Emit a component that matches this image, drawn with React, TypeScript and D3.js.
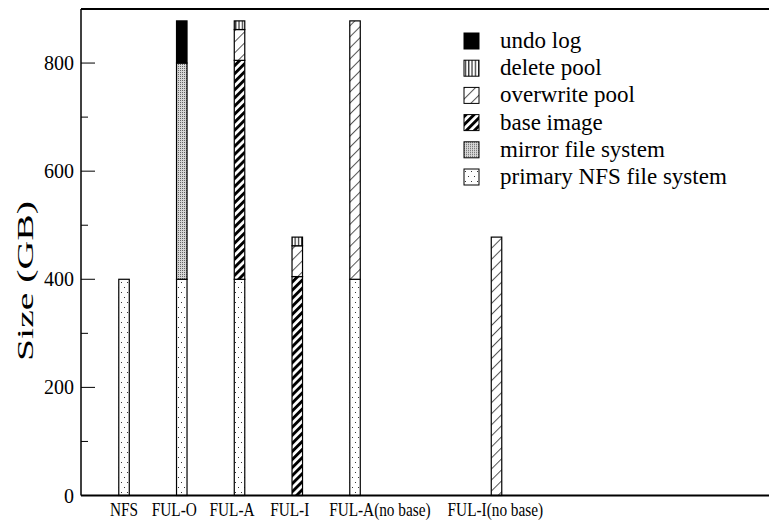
import React from "react";
import * as d3 from "d3";

// values (GB)
const categories = ["NFS", "FUL-O", "FUL-A", "FUL-I", "FUL-A(no base)", "FUL-I(no base)"];
const positions = [1, 2, 3, 4, 5, 7.45];
const labelPositions = [1.0, 1.87, 2.87, 3.87, 5.43, 7.43];
const primaryNfs = [400, 400, 400, 0, 400, 0];
const mirrorFs = [0, 400, 0, 0, 0, 0];
const baseImage = [0, 0, 405, 405, 0, 0];
const overwritePool = [0, 0, 57, 57, 478, 478];
const deletePool = [0, 0, 16, 16, 0, 0];
const undoLog = [0, 78, 0, 0, 0, 0];

const seriesKeys = ["primary", "mirror", "base", "overwrite", "delete", "undo"];
const seriesLabels = [
  "primary NFS file system",
  "mirror file system",
  "base image",
  "overwrite pool",
  "delete pool",
  "undo log",
];
const seriesFills = ["url(#pPrimary)", "url(#pMirror)", "url(#pBase)", "url(#pOverwrite)", "url(#pDelete)", "#000"];
const yTicks = [0, 200, 400, 600, 800];
const yMinorTicks = [100, 300, 500, 700];

const W = 769;
const H = 524;
const font = "Liberation Serif, serif";

const rows = categories.map((c, i) => ({
  name: c,
  pos: positions[i],
  labelPos: labelPositions[i],
  primary: primaryNfs[i],
  mirror: mirrorFs[i],
  base: baseImage[i],
  overwrite: overwritePool[i],
  delete: deletePool[i],
  undo: undoLog[i],
}));

const App = () => {
  const left = 81, top = 9, bottom = 495.5;
  const x = d3.scaleLinear().domain([0.255, 12.2]).range([left, left + (12.2 - 0.255) * 57.75]);
  const y = d3.scaleLinear().domain([0, 900]).range([bottom, top]);
  const barW = 10.5;

  const stacked = d3.stack<any>().keys(seriesKeys)(rows);

  return (
    <svg width={W} height={H} style={{ position: "absolute", left: 0, top: 0, background: "#fff", fontFamily: font }}>
      <defs>
        <pattern id="pPrimary" width="6" height="10" patternUnits="userSpaceOnUse">
          <rect width="6" height="10" fill="#fff" />
          <rect x="1" y="2" width="1" height="1" fill="#333" />
          <rect x="4" y="7" width="1" height="1" fill="#333" />
        </pattern>
        <pattern id="pMirror" width="2" height="2" patternUnits="userSpaceOnUse">
          <rect width="2" height="2" fill="#d8d8d8" />
          <rect x="0" y="0" width="1" height="1" fill="#666" />
        </pattern>
        <pattern id="pBase" width="5.7" height="10" patternUnits="userSpaceOnUse" patternTransform="rotate(45)">
          <rect width="5.7" height="10" fill="#fff" />
          <rect width="2.9" height="10" fill="#000" />
        </pattern>
        <pattern id="pOverwrite" width="7.8" height="10" patternUnits="userSpaceOnUse" patternTransform="rotate(45)">
          <rect width="7.8" height="10" fill="#fff" />
          <rect width="1" height="10" fill="#555" />
        </pattern>
        <pattern id="pDelete" width="3.3" height="10" patternUnits="userSpaceOnUse">
          <rect width="3.3" height="10" fill="#fff" />
          <rect x="1" width="1" height="10" fill="#000" />
        </pattern>
      </defs>

      {/* bars */}
      {stacked.map((s, si) =>
        s.map((d, i) => {
          if (d[1] - d[0] <= 0) return null;
          return (
            <rect
              key={`${si}-${i}`}
              x={x(rows[i].pos) - barW / 2}
              y={y(d[1])}
              width={barW}
              height={y(d[0]) - y(d[1])}
              fill={seriesFills[si]}
              stroke="#000"
              strokeWidth={1.2}
            />
          );
        })
      )}

      {/* frame */}
      <line x1={left} x2={W + 2} y1={top} y2={top} stroke="#000" strokeWidth={2} />
      <line x1={left} x2={W + 2} y1={bottom} y2={bottom} stroke="#000" strokeWidth={2} />
      <line x1={left} x2={left} y1={top} y2={bottom} stroke="#000" strokeWidth={1.5} />

      {/* y ticks */}
      {yTicks.map((t) => (
        <g key={t}>
          <line x1={left} x2={left + 14} y1={y(t)} y2={y(t)} stroke="#000" strokeWidth={1} />
          <text x={74} y={y(t)} dy="0.35em" textAnchor="end" fontSize={20}>
            {t}
          </text>
        </g>
      ))}
      {yMinorTicks.map((t) => (
        <line key={t} x1={left} x2={left + 7} y1={y(t)} y2={y(t)} stroke="#000" strokeWidth={1} />
      ))}

      <text
        transform={`translate(33,281) rotate(-90)`}
        textAnchor="middle"
        fontSize={23}
        textLength={160}
        lengthAdjust="spacingAndGlyphs"
      >
        Size (GB)
      </text>

      {/* x labels */}
      {rows.map((r) => (
        <text
          key={r.name}
          transform={`translate(${x(r.labelPos)},516) scale(0.85,1)`}
          textAnchor="middle"
          fontSize={18}
        >
          {r.name}
        </text>
      ))}

      {/* legend */}
      {seriesKeys
        .map((k, i) => i)
        .reverse()
        .map((si, row) => (
          <g key={si} transform={`translate(464,${33 + row * 27.2})`}>
            <rect width={15} height={16} fill={seriesFills[si]} stroke="#000" strokeWidth={1} />
            <text x={36} y={15} fontSize={23}>
              {seriesLabels[si]}
            </text>
          </g>
        ))}
    </svg>
  );
};

export default App;
